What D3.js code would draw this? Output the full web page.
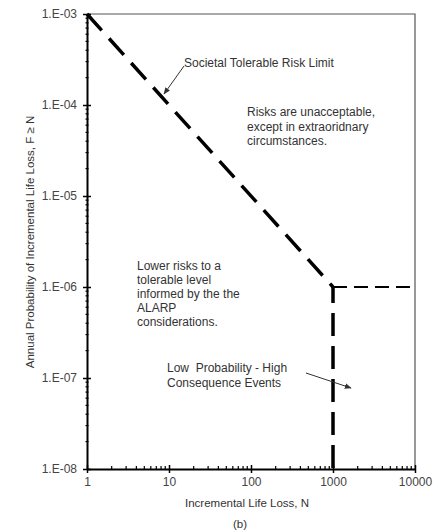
<!DOCTYPE html>
<html><head><meta charset="utf-8">
<script src="https://cdn.jsdelivr.net/npm/d3@7"></script>
<style>html,body{margin:0;padding:0;background:#fff;}svg{display:block;}text{white-space:pre;}</style>
</head><body>
<svg id="c" width="439" height="532"></svg>
<script>
// Data
const xTickValues = [1, 10, 100, 1000, 10000];
const xTickLabels = ["1", "10", "100", "1000", "10000"];
const yTickValues = [1e-8, 1e-7, 1e-6, 1e-5, 1e-4, 1e-3];
const yTickLabels = ["1.E-08", "1.E-07", "1.E-06", "1.E-05", "1.E-04", "1.E-03"];
const limitN = [1, 1000];
const limitF = [1e-3, 1e-6];
const horizN = [1000, 10000];
const horizF = [1e-6, 1e-6];
const vertN = [1000, 1000];
const vertF = [1e-6, 1e-8];

const svg = d3.select("#c");
const L = 87, R = 415, T = 14, B = 469;
const x = d3.scaleLog().domain([1, 10000]).range([L, R]);
const y = d3.scaleLog().domain([1e-8, 1e-3]).range([B, T]);
const font = "'Liberation Sans', Arial, sans-serif";

const defs = svg.append("defs");
defs.append("marker").attr("id", "ah").attr("viewBox", "0 0 10 10")
  .attr("refX", 9).attr("refY", 5).attr("markerWidth", 7).attr("markerHeight", 7)
  .attr("orient", "auto").attr("markerUnits", "userSpaceOnUse")
  .append("path").attr("d", "M0,1 L10,5 L0,9 Z").attr("fill", "#333");

// frame (top, right)
svg.append("path").attr("d", `M${L},${T}H${R}V${B}`).attr("fill", "none")
  .attr("stroke", "#555").attr("stroke-width", 1.2);

// minor ticks
const minorX = [];
for (let d = 1; d < 10000; d *= 10) for (let k = 2; k <= 9; k++) minorX.push(d * k);
const minorY = [];
for (let d = 1e-8; d < 1e-3 * 0.99; d *= 10) for (let k = 2; k <= 9; k++) minorY.push(d * k);

const ax = svg.append("g").attr("transform", `translate(0,${B})`)
  .call(d3.axisBottom(x).tickValues(xTickValues).tickFormat((d, i) => xTickLabels[i]).tickSize(4).tickSizeOuter(0));
ax.select(".domain").attr("stroke", "#000").attr("stroke-width", 2);
ax.selectAll(".tick line").attr("stroke", "#000").attr("stroke-width", 1.5).attr("y1", -4);
ax.selectAll(".tick text").attr("font-family", font).attr("font-size", 12).attr("fill", "#444").attr("dy", "0.8em").attr("y", 7);
ax.selectAll(".minor").data(minorX).enter().append("line")
  .attr("x1", d => x(d)).attr("x2", d => x(d)).attr("y1", -3).attr("y2", 0)
  .attr("stroke", "#000").attr("stroke-width", 1.2);

const ay = svg.append("g").attr("transform", `translate(${L},0)`)
  .call(d3.axisLeft(y).tickValues(yTickValues).tickFormat((d, i) => yTickLabels[i]).tickSize(4).tickSizeOuter(0));
ay.select(".domain").attr("stroke", "#000").attr("stroke-width", 2);
ay.selectAll(".tick line").attr("stroke", "#000").attr("stroke-width", 1.5).attr("x2", 4).attr("x1", -4);
ay.selectAll(".tick text").attr("font-family", font).attr("font-size", 12).attr("fill", "#444").attr("x", -10);
ay.selectAll(".minor").data(minorY).enter().append("line")
  .attr("y1", d => y(d)).attr("y2", d => y(d)).attr("x1", -1.5).attr("x2", 1.5)
  .attr("stroke", "#000").attr("stroke-width", 1.2);

// lines
const line = d3.line().x(d => x(d[0])).y(d => y(d[1]));
svg.append("path").datum(limitN.map((n, i) => [n, limitF[i]])).attr("d", line)
  .attr("fill", "none").attr("stroke", "#000").attr("stroke-width", 3.5).attr("stroke-dasharray", "22,11");
svg.append("path").datum(horizN.map((n, i) => [n, horizF[i]])).attr("d", line)
  .attr("fill", "none").attr("stroke", "#000").attr("stroke-width", 2.2).attr("stroke-dasharray", "14,7");
svg.append("path").datum(vertN.map((n, i) => [n, vertF[i]])).attr("d", line)
  .attr("fill", "none").attr("stroke", "#000").attr("stroke-width", 3.5)
  .attr("stroke-dasharray", "23,10").attr("stroke-dashoffset", 7);

// annotations
function txt(lines, x0, y0, lh) {
  const t = svg.append("text").attr("font-family", font).attr("font-size", 12).attr("fill", "#333");
  lines.forEach((s, i) => t.append("tspan").attr("x", x0).attr("y", y0 + i * lh).text(s));
}
txt(["Societal Tolerable Risk Limit"], 184, 67, 14);
txt(["Risks are unacceptable,", "except in extraoridnary", "circumstances."], 247, 116, 14.5);
txt(["Lower risks to a", "tolerable level", "informed by the the", "ALARP", "considerations."], 137, 270, 14);
txt(["Low  Probability - High", "Consequence Events"], 167, 372, 14.5);

svg.append("line").attr("x1", 184).attr("y1", 66).attr("x2", 164).attr("y2", 94)
  .attr("stroke", "#333").attr("stroke-width", 1).attr("marker-end", "url(#ah)");
svg.append("line").attr("x1", 306).attr("y1", 373).attr("x2", 351).attr("y2", 388)
  .attr("stroke", "#333").attr("stroke-width", 1).attr("marker-end", "url(#ah)");

// axis titles
svg.append("text").attr("x", 247).attr("y", 507).attr("text-anchor", "middle")
  .attr("font-family", font).attr("font-size", 11.5).attr("fill", "#333").text("Incremental Life Loss, N");
svg.append("text").attr("x", 240).attr("y", 528).attr("text-anchor", "middle")
  .attr("font-family", font).attr("font-size", 11.5).attr("fill", "#333").text("(b)");
svg.append("text").attr("transform", "translate(34,242) rotate(-90)").attr("text-anchor", "middle")
  .attr("font-family", font).attr("font-size", 11.5).attr("fill", "#333")
  .text("Annual Probability of Incremental Life Loss, F \u2265 N");
</script>
</body></html>
